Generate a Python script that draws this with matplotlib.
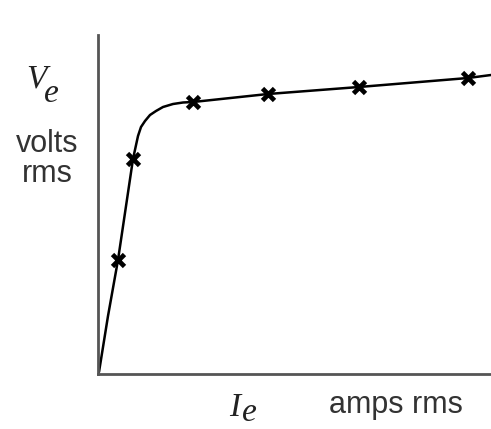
import matplotlib
matplotlib.use("Agg")
import matplotlib.pyplot as plt
import numpy as np

# measured points (arbitrary units)
marker_x = [20, 35, 95, 170, 261, 370]
marker_y = [114, 215, 272, 280, 287, 296]

# smooth curve
curve_x = [1, 10, 20, 35, 40, 43, 47, 52, 58, 65, 75, 85, 95, 170, 261, 370, 393]
curve_y = [2, 58, 114, 215, 238, 247, 253, 259, 263, 267, 270, 271.5, 272, 280, 287, 296, 299]

fig = plt.figure(figsize=(4.91, 4.29), dpi=100)
W, H = 491, 429
ax = fig.add_axes([98 / W, (H - 374) / H, 393 / W, (374 - 35) / H])
ax.set_xlim(0, 393)
ax.set_ylim(0, 339)

ax.plot(curve_x, curve_y, color='black', lw=1.8, solid_capstyle='round')
ax.plot(marker_x, marker_y, linestyle='none', marker='x', color='black',
        ms=9, mew=3.4)

for s in ['top', 'right']:
    ax.spines[s].set_visible(False)
for s in ['left', 'bottom']:
    ax.spines[s].set_color('#555555')
    ax.spines[s].set_linewidth(2)
ax.set_xticks([])
ax.set_yticks([])

serif = dict(family='Liberation Serif', style='italic', fontsize=24,
             color='#222222', va='baseline', ha='left')
sans = dict(family='Liberation Sans', fontsize=22, color='#333333',
            va='baseline')

def fx(px):
    return px / W

def fy(py):
    return 1 - py / H

fig.text(fx(26), fy(88), 'V', **serif)
fig.text(fx(44), fy(102), 'e', **serif)
fig.text(fx(47), fy(152), 'volts', ha='center', **sans)
fig.text(fx(47), fy(182), 'rms', ha='center', **sans)
fig.text(fx(229), fy(416), 'I', **serif)
fig.text(fx(242), fy(421), 'e', **serif)
fig.text(fx(329), fy(413), 'amps rms', ha='left', **sans)

fig.savefig('out.png', dpi=100)
